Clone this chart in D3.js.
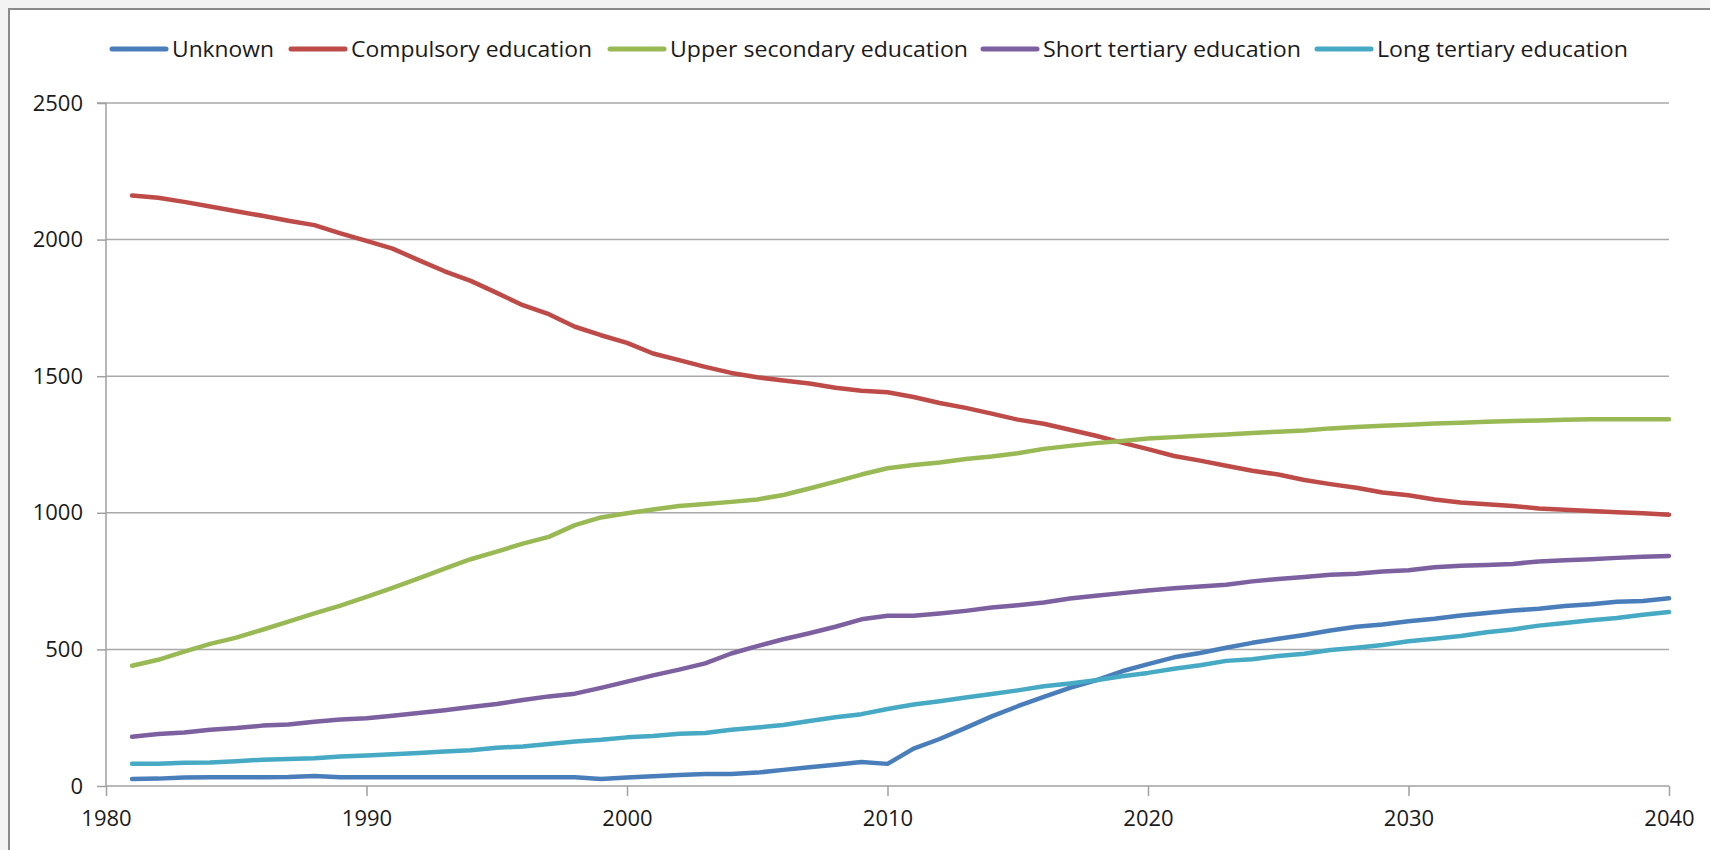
<!DOCTYPE html>
<html>
<head>
<meta charset="utf-8">
<script src="https://cdn.jsdelivr.net/npm/d3@7"></script>
<style>
  html, body { margin: 0; padding: 0; background: #f3f3f3; }
  svg { display: block; }
  text { font-family: "Open Sans", sans-serif; fill: #1a1a1a; }
</style>
</head>
<body>
<svg id="chart" width="1710" height="850"></svg>
<script>
const years = d3.range(1981, 2041);
const seriesNames = ["Unknown", "Compulsory education", "Upper secondary education", "Short tertiary education", "Long tertiary education"];
const seriesColors = ["#4a7ebb", "#be4b48", "#98b954", "#7d60a0", "#46aac5"];
const unknown = [26,27,31,32,32,32,33,37,32,32,32,32,32,32,32,32,32,32,26,31,36,40,44,44,49,59,69,78,88,81,137,172,213,255,292,326,359,387,420,446,471,487,506,524,539,553,569,583,591,603,612,624,633,642,649,659,665,674,677,687];
const compulsory = [2161,2153,2138,2121,2104,2087,2069,2053,2023,1995,1967,1925,1884,1849,1805,1760,1727,1681,1650,1622,1583,1559,1534,1512,1496,1484,1473,1458,1447,1441,1424,1402,1384,1363,1341,1326,1304,1282,1257,1233,1208,1191,1172,1154,1140,1120,1105,1092,1074,1064,1049,1038,1031,1025,1016,1011,1007,1002,998,993];
const upperSecondary = [440,462,492,520,543,572,602,632,660,692,725,760,796,830,858,887,912,955,983,998,1012,1025,1032,1040,1049,1065,1089,1114,1140,1163,1175,1184,1197,1206,1218,1234,1245,1255,1263,1272,1277,1282,1287,1292,1297,1301,1309,1314,1319,1322,1327,1330,1333,1336,1338,1341,1342,1342,1342,1342];
const shortTertiary = [180,190,196,206,212,221,225,235,243,248,257,267,277,289,300,315,328,338,359,382,405,426,449,485,512,537,559,583,610,623,623,631,641,653,662,672,686,696,706,716,724,730,737,749,758,765,773,777,785,790,801,806,809,813,822,826,830,835,839,842];
const longTertiary = [81,81,85,86,91,96,99,102,108,112,116,121,126,131,140,145,154,163,169,178,183,191,194,206,214,223,238,252,263,282,298,310,324,337,350,365,375,387,402,414,429,442,458,464,476,484,498,506,516,530,539,549,563,573,587,597,607,615,627,637];
const seriesValues = [unknown, compulsory, upperSecondary, shortTertiary, longTertiary];
const yTicks = [0, 500, 1000, 1500, 2000, 2500];
const xTicks = [1980, 1990, 2000, 2010, 2020, 2030, 2040];

const svg = d3.select("#chart");

// chart frame
svg.append("rect").attr("x", 9).attr("y", 9).attr("width", 1740).attr("height", 900)
  .attr("fill", "#ffffff").attr("stroke", "#8a8a8a").attr("stroke-width", 2);

const x = d3.scaleLinear().domain([1980, 2040]).range([106, 1669]);
const y = d3.scaleLinear().domain([0, 2500]).range([786, 103]);

// gridlines
svg.append("g").selectAll("line").data(yTicks.filter(d => d > 0)).join("line")
  .attr("x1", x(1980)).attr("x2", x(2040))
  .attr("y1", d => y(d)).attr("y2", d => y(d))
  .attr("stroke", "#a9a9a9").attr("stroke-width", 1.5);

// y axis
const yAxis = d3.axisLeft(y).tickValues(yTicks).tickSize(9).tickPadding(14).tickFormat(d3.format("d"));
const gy = svg.append("g").attr("transform", `translate(${x(1980)},0)`).call(yAxis);
gy.select(".domain").attr("stroke", "#a0a0a0").attr("stroke-width", 1.5).attr("d", `M-9,${y(2500)}H0V${y(0)}`);
gy.selectAll(".tick line").attr("stroke", "#a0a0a0").attr("stroke-width", 1.5);
gy.selectAll(".tick text").attr("font-family", "Open Sans").attr("font-size", 22).attr("fill", "#1a1a1a");

// x axis
const xAxis = d3.axisBottom(x).tickValues(xTicks).tickSize(10).tickPadding(14).tickFormat(d3.format("d"));
const gx = svg.append("g").attr("transform", `translate(0,${y(0)})`).call(xAxis);
gx.select(".domain").attr("stroke", "#a0a0a0").attr("stroke-width", 1.5).attr("d", `M${x(1980)},0H${x(2040)}`);
gx.selectAll(".tick line").attr("stroke", "#a0a0a0").attr("stroke-width", 1.5);
gx.selectAll(".tick text").attr("font-family", "Open Sans").attr("font-size", 22).attr("fill", "#1a1a1a");

// lines
const line = d3.line().x((d, i) => x(years[i])).y(d => y(d)).curve(d3.curveLinear);
svg.append("g").selectAll("path").data(seriesValues).join("path")
  .attr("d", d => line(d))
  .attr("fill", "none")
  .attr("stroke", (d, i) => seriesColors[i])
  .attr("stroke-width", 4.5)
  .attr("stroke-linejoin", "round")
  .attr("stroke-linecap", "round");

// legend
const legendX = [112, 291, 610, 983, 1317];
const legendTextWidth = [102, 241, 298, 258, 251];
const legendY = 49;
const lg = svg.append("g").selectAll("g").data(seriesNames).join("g")
  .attr("transform", (d, i) => `translate(${legendX[i]},${legendY})`);
lg.append("line").attr("x1", 0).attr("x2", 54).attr("y1", 0).attr("y2", 0)
  .attr("stroke", (d, i) => seriesColors[i]).attr("stroke-width", 5).attr("stroke-linecap", "round");
lg.append("text").attr("x", 60).attr("y", 0).attr("dy", "0.35em")
  .attr("font-size", 22)
  .attr("textLength", (d, i) => legendTextWidth[i])
  .attr("lengthAdjust", "spacingAndGlyphs")
  .text(d => d);
</script>
</body>
</html>
